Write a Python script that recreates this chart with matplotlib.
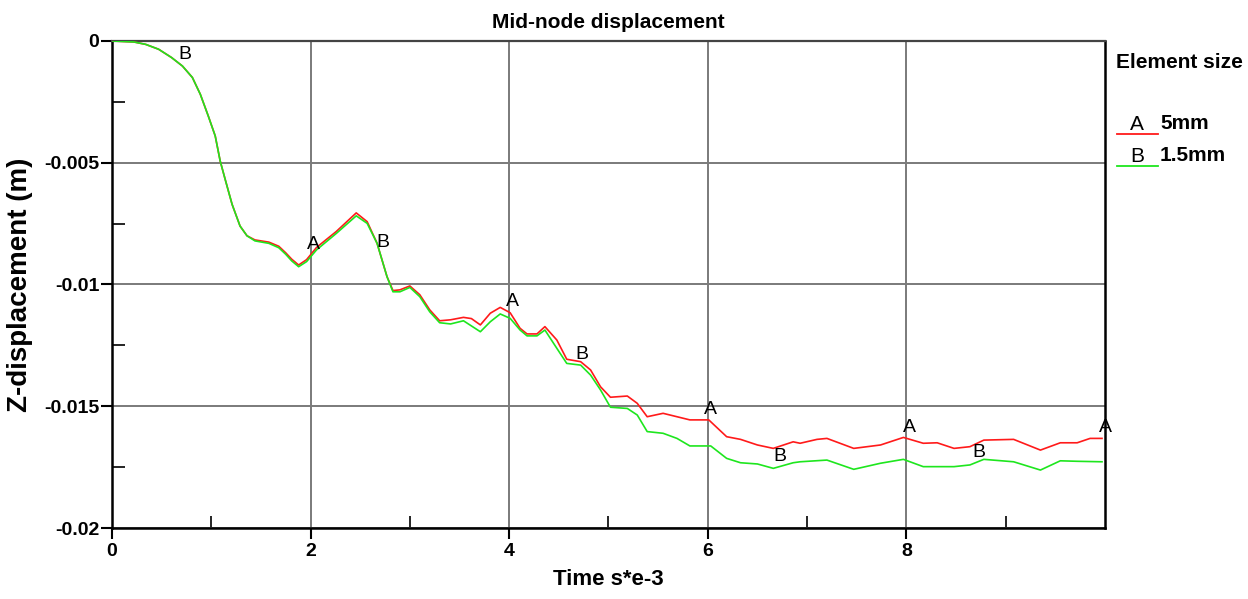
import numpy as np
import matplotlib
matplotlib.use("Agg")
import matplotlib.pyplot as plt
from matplotlib.lines import Line2D
from matplotlib.ticker import FixedLocator

# time (s*e-3) and mid-node z-displacement (m), 1.5mm elements
t_b = [0.00, 0.22, 0.34, 0.47, 0.60, 0.71, 0.81, 0.89, 0.97, 1.04, 1.09, 1.14,
       1.21, 1.29, 1.36, 1.44, 1.58, 1.68, 1.75, 1.81, 1.88, 1.96, 2.06, 2.26,
       2.46, 2.57, 2.67, 2.77, 2.83, 2.90, 3.00, 3.10, 3.20, 3.30, 3.41, 3.54,
       3.71, 3.81, 3.91, 4.01, 4.11, 4.18, 4.28, 4.36, 4.48, 4.58, 4.72, 4.82,
       4.92, 5.02, 5.19, 5.29, 5.39, 5.55, 5.69, 5.82, 6.03, 6.19, 6.33, 6.50,
       6.66, 6.86, 6.93, 7.20, 7.47, 7.74, 7.97, 8.17, 8.48, 8.64, 8.78, 9.08,
       9.35, 9.55, 9.72, 9.97]
z_b = [0.0, -0.00004, -0.00014, -0.00034, -0.00068, -0.00103, -0.0015, -0.00219,
       -0.00308, -0.0039, -0.00493, -0.00568, -0.00671, -0.0076, -0.008,
       -0.00821, -0.00831, -0.00849, -0.00876, -0.00903, -0.00927, -0.00906,
       -0.00858, -0.0079, -0.00718, -0.00749, -0.00831, -0.00968, -0.0103,
       -0.0103, -0.01012, -0.0105, -0.01112, -0.01157, -0.01162, -0.01149,
       -0.01194, -0.01153, -0.01121, -0.01139, -0.01187, -0.01211, -0.01211,
       -0.01187, -0.01262, -0.01324, -0.01331, -0.01372, -0.01433, -0.01504,
       -0.01509, -0.01536, -0.01604, -0.01611, -0.01632, -0.01663, -0.01663,
       -0.01714, -0.01732, -0.01737, -0.01755, -0.01732, -0.01728, -0.01721,
       -0.01759, -0.01734, -0.01718, -0.01748, -0.01748, -0.01741, -0.01718,
       -0.01728, -0.01762, -0.01724, -0.01726, -0.01728]

# 5mm elements
t_a = [0.00, 0.22, 0.34, 0.47, 0.60, 0.71, 0.81, 0.89, 0.97, 1.04, 1.09, 1.14,
       1.21, 1.29, 1.36, 1.44, 1.58, 1.68, 1.75, 1.81, 1.88, 1.96, 2.06, 2.26,
       2.46, 2.57, 2.67, 2.77, 2.83, 2.90, 3.00, 3.10, 3.20, 3.30, 3.41, 3.54,
       3.62, 3.71, 3.81, 3.91, 4.01, 4.11, 4.18, 4.28, 4.36, 4.48, 4.58, 4.72,
       4.82, 4.92, 5.02, 5.19, 5.29, 5.39, 5.55, 5.69, 5.82, 6.01, 6.19, 6.33,
       6.50, 6.66, 6.86, 6.93, 7.10, 7.20, 7.47, 7.74, 7.97, 8.17, 8.31, 8.48,
       8.64, 8.78, 9.08, 9.35, 9.55, 9.72, 9.85, 9.97]
z_a = [0.0, -0.00004, -0.00014, -0.00034, -0.00068, -0.00103, -0.0015, -0.00219,
       -0.00308, -0.0039, -0.00493, -0.00568, -0.00671, -0.0076, -0.008,
       -0.00817, -0.00826, -0.00843, -0.0087, -0.00896, -0.0092, -0.00898,
       -0.00848, -0.00782, -0.00706, -0.00742, -0.00831, -0.00968, -0.01025,
       -0.01022, -0.01006, -0.01042, -0.01104, -0.01149, -0.01145, -0.01135,
       -0.0114, -0.01166, -0.01118, -0.01094, -0.01116, -0.0118, -0.01203,
       -0.01203, -0.01173, -0.01228, -0.01307, -0.01317, -0.01351, -0.0142,
       -0.01463, -0.01458, -0.01488, -0.01543, -0.01529, -0.01543, -0.01556,
       -0.01556, -0.01625, -0.01636, -0.01659, -0.01673, -0.01646, -0.01652,
       -0.01636, -0.01632, -0.01673, -0.01659, -0.01628, -0.01652, -0.0165,
       -0.01673, -0.01666, -0.01639, -0.01636, -0.0168, -0.0165, -0.0165,
       -0.01632, -0.01632]

# curve letters along each line
mark_a = [2.0, 4.0, 6.0, 8.0, 9.97]
mark_b = [0.7, 2.7, 4.7, 6.7, 8.7]

series = ["5mm", "1.5mm"]
xticks = [0, 2, 4, 6, 8]
yticks = [0, -0.005, -0.01, -0.015, -0.02]
ytick_labels = ["0", "-0.005", "-0.01", "-0.015", "-0.02"]

RED = "#ff1a1a"
GREEN = "#1ee61e"
narrow = ["Liberation Sans Narrow", "Liberation Sans", "DejaVu Sans"]

fig = plt.figure(figsize=(12.48, 5.99), dpi=100)
ax = fig.add_axes([0.0897, 0.1185, 0.7957, 0.8131])

ax.plot(t_a, z_a, color=RED, lw=1.2, zorder=3)
ax.plot(t_b, z_b, color=GREEN, lw=1.2, zorder=4)

for t in mark_a:
    ax.text(t + 0.03, np.interp(t, t_a, z_a) + 0.00008, "A", ha="center",
            va="bottom", fontsize=14, family=narrow, zorder=5)
for t in mark_b:
    ax.text(t + 0.03, np.interp(t, t_b, z_b) + 0.00008, "B", ha="center",
            va="bottom", fontsize=14, family=narrow, zorder=5)

ax.set_xlim(0, 10)
ax.set_ylim(-0.02, 0)
ax.set_xticks(xticks)
ax.set_yticks(yticks)
ax.set_yticklabels(ytick_labels)
ax.xaxis.set_minor_locator(FixedLocator([1, 3, 5, 7, 9]))
ax.yaxis.set_minor_locator(FixedLocator([-0.0025, -0.0075, -0.0125, -0.0175]))
ax.grid(True, which="major", color="#7a7a7a", lw=1.4)
ax.set_axisbelow(True)

ax.tick_params(which="major", direction="out", length=8, width=1.5, color="black")
ax.tick_params(which="minor", direction="in", length=9, width=1.2, color="black")
for lab in ax.get_xticklabels() + ax.get_yticklabels():
    lab.set_family(narrow)
    lab.set_fontweight("bold")
    lab.set_fontsize(14)
ax.tick_params(axis="y", pad=1)
ax.tick_params(axis="x", pad=3)

for side in ["left", "bottom", "right"]:
    ax.spines[side].set_linewidth(1.8)
    ax.spines[side].set_color("black")
ax.spines["top"].set_linewidth(1.6)
ax.spines["top"].set_color("#444444")

ax.set_title("Mid-node displacement", fontsize=15, fontweight="bold",
             family=narrow, pad=9)
ax.set_xlabel("Time s*e-3", fontsize=16, fontweight="bold", family=narrow,
              labelpad=6)
ax.set_ylabel("Z-displacement (m)", fontsize=20, fontweight="bold",
              family=["Liberation Sans", "DejaVu Sans"], labelpad=8)

# legend drawn beside the axes
fig.text(1116 / 1248, 1 - 63 / 599, "Element size", fontsize=15,
         fontweight="bold", family=narrow, va="center", ha="left")
for i, (code, name, col) in enumerate(zip(["A", "B"], series, [RED, GREEN])):
    yl = 1 - (134 + 32 * i) / 599
    fig.add_artist(Line2D([1117 / 1248, 1158 / 1248], [yl, yl], color=col,
                          lw=1.3, transform=fig.transFigure))
    fig.text(1137 / 1248, yl, code, fontsize=15, family=narrow,
             va="bottom", ha="center")
    fig.text(1160 / 1248, yl + 0.002, name, fontsize=15, family=narrow,
             fontweight="bold", va="bottom", ha="left")

fig.savefig("out.png", dpi=100)
